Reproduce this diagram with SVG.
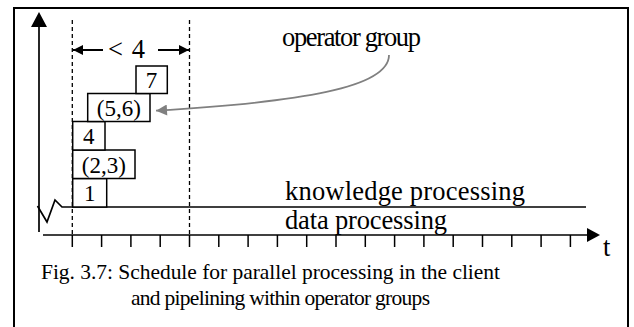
<svg xmlns="http://www.w3.org/2000/svg" width="634" height="327" viewBox="0 0 634 327">
<style>
text{font-family:"Liberation Serif","Times New Roman",serif;fill:#000}
.box{fill:#fff;stroke:#000;stroke-width:1.5}
.bt{font-size:23px;text-anchor:middle}
.lbl{font-size:26.5px}
.cap{font-size:21.5px}
.ax{stroke:#000;stroke-width:1.7;fill:none}
.dash{stroke:#000;stroke-width:1.3;stroke-dasharray:4,3;fill:none}
.tick{stroke:#000;stroke-width:1.5}
</style>
<defs>
<marker id="ah" viewBox="0 0 10 10" refX="10" refY="5" markerWidth="15" markerHeight="10" markerUnits="userSpaceOnUse" orient="auto"><path d="M0,0 L10,5 L0,10 Z" fill="#000"/></marker>
<marker id="gh" viewBox="0 0 10 10" refX="10" refY="5" markerWidth="13" markerHeight="11" markerUnits="userSpaceOnUse" orient="auto"><path d="M0,0 L10,5 L0,10 Z" fill="#808080"/></marker>
</defs>
<rect x="14" y="8" width="614" height="330" fill="#fff" stroke="#000" stroke-width="2"/>
<g id="axes">
<path class="ax" d="M39,232 V24"/>
<path d="M31,27 L39,12 L47,27 Z" fill="#000"/>
<path class="ax" d="M43,235 H588"/>
<path d="M587,228 L600,235 L587,242 Z" fill="#000"/>
<g class="tick">
<line x1="72.3" y1="235" x2="72.3" y2="247"/><line x1="101.6" y1="235" x2="101.6" y2="247"/><line x1="130.9" y1="235" x2="130.9" y2="247"/><line x1="160.2" y1="235" x2="160.2" y2="247"/><line x1="189.5" y1="235" x2="189.5" y2="247"/><line x1="218.8" y1="235" x2="218.8" y2="247"/><line x1="248.1" y1="235" x2="248.1" y2="247"/><line x1="277.4" y1="235" x2="277.4" y2="247"/><line x1="306.7" y1="235" x2="306.7" y2="247"/><line x1="336" y1="235" x2="336" y2="247"/><line x1="365.3" y1="235" x2="365.3" y2="247"/><line x1="394.6" y1="235" x2="394.6" y2="247"/><line x1="423.9" y1="235" x2="423.9" y2="247"/><line x1="453.2" y1="235" x2="453.2" y2="247"/><line x1="482.5" y1="235" x2="482.5" y2="247"/><line x1="511.8" y1="235" x2="511.8" y2="247"/><line x1="541.1" y1="235" x2="541.1" y2="247"/><line x1="570.4" y1="235" x2="570.4" y2="247"/>
</g>
<text x="603" y="256" class="lbl">t</text>
</g>
<g id="separator">
<path class="ax" d="M37.5,206 L47,222 L55,200 L62,207 H586"/>
<text x="285" y="200" class="lbl" textLength="240">knowledge processing</text>
<text x="285" y="229" class="lbl" textLength="162">data processing</text>
</g>
<g id="interval">
<path class="dash" d="M72.3,20 V235"/>
<path class="dash" d="M189.5,20 V235"/>
<text x="126.5" y="58" class="lbl" font-size="29" textLength="37" text-anchor="middle">&lt; 4</text>
</g>
<g id="box-1"><rect class="box" x="72.7" y="178.5" width="34" height="28.5"/><text class="bt" x="89.7" y="201">1</text></g>
<g id="box-23"><rect class="box" x="72.7" y="150" width="62.3" height="28.5"/><text class="bt" x="103.8" y="172.5">(2,3)</text></g>
<g id="box-4"><rect class="box" x="72.7" y="121.5" width="32.3" height="28.5"/><text class="bt" x="88.8" y="144">4</text></g>
<g id="box-56"><rect class="box" x="87.7" y="93.5" width="62.3" height="28"/><text class="bt" x="118.8" y="115.5">(5,6)</text></g>
<g id="box-7"><rect class="box" x="136" y="66" width="31.3" height="27.5"/><text class="bt" x="151.6" y="88">7</text></g>
<g id="operator-group"><text x="282" y="46" class="lbl" font-size="23.5" textLength="139">operator group</text></g>
<g id="connectors">
<line x1="103" y1="50" x2="73" y2="50" stroke="#000" stroke-width="2" marker-end="url(#ah)"/>
<line x1="158" y1="50" x2="189" y2="50" stroke="#000" stroke-width="2" marker-end="url(#ah)"/>
<path d="M389,55 C389,88 300,102 156,110.7" fill="none" stroke="#808080" stroke-width="1.8" marker-end="url(#gh)"/>
</g>
<g id="caption">
<text x="41" y="279" class="cap" textLength="459">Fig. 3.7: Schedule for parallel processing in the client</text>
<text x="131" y="305" class="cap" font-size="21" textLength="299">and pipelining within operator groups</text>
</g>
</svg>
